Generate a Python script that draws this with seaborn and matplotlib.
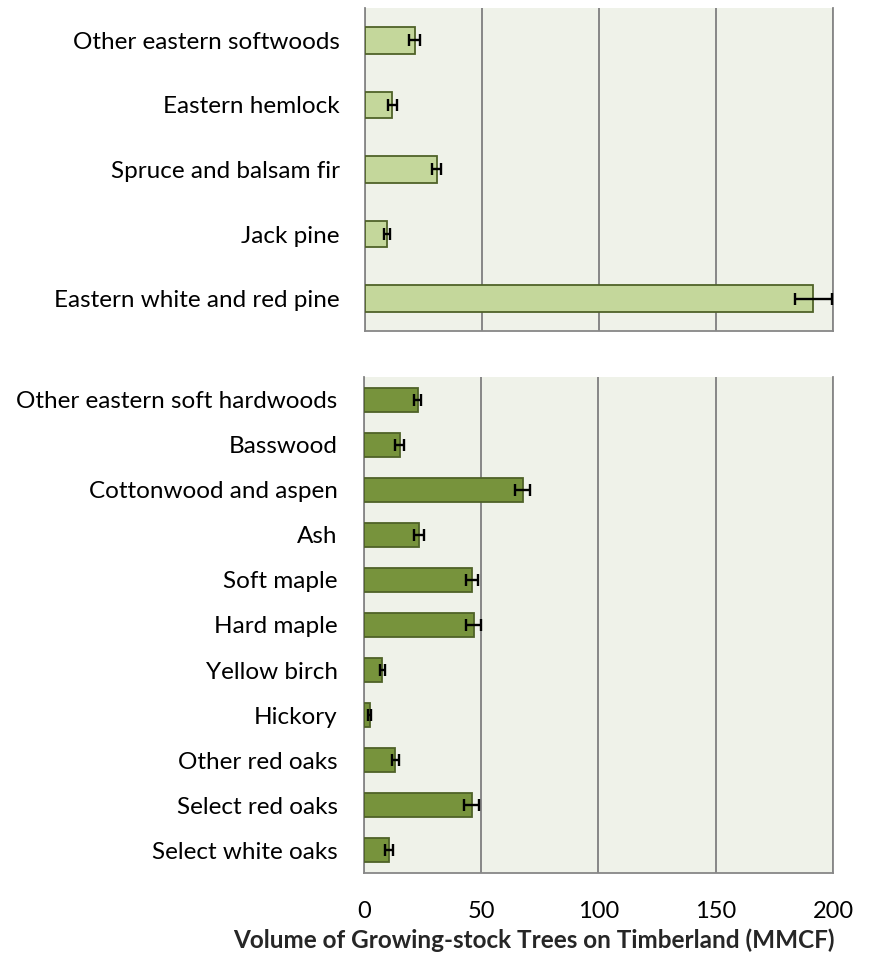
import numpy as np
import pandas as pd
import matplotlib.pyplot as plt
import seaborn as sns

# ── DATA ──────────────────────────────────────────────────────────────────────
soft_species = ['Other eastern softwoods', 'Eastern hemlock', 'Spruce and balsam fir',
                'Jack pine', 'Eastern white and red pine']
soft_volume = [21.2, 11.7, 30.6, 9.4, 191.6]
soft_err = [2.5, 1.9, 1.9, 1.2, 7.9]

hard_species = ['Other eastern soft hardwoods', 'Basswood', 'Cottonwood and aspen', 'Ash',
                'Soft maple', 'Hard maple', 'Yellow birch', 'Hickory', 'Other red oaks',
                'Select red oaks', 'Select white oaks']
hard_volume = [22.9, 15.2, 67.7, 23.4, 46.2, 46.9, 7.8, 2.4, 13.4, 45.9, 10.7]
hard_err = [1.6, 1.8, 3.2, 2.0, 2.5, 3.2, 1.1, 0.6, 1.6, 3.3, 1.6]

x_ticks = [0, 50, 100, 150, 200]
x_label = 'Volume of Growing-stock Trees on Timberland (MMCF)'

# ── STYLE ─────────────────────────────────────────────────────────────────────
sns.set_style('white')
plt.rcParams['font.family'] = ['Lato', 'DejaVu Sans']
grid_col = '#878787'
bg_col = '#EFF2E9'

fig = plt.figure(figsize=(8.78, 9.63), dpi=100)
ax1 = fig.add_axes([0.4157, 0.6563, 0.5330, 0.3354])
ax2 = fig.add_axes([0.4146, 0.0935, 0.5341, 0.5150])


def draw_panel(ax, species, volume, err, fill, width):
    df = pd.DataFrame({'species': species, 'volume': volume})
    sns.barplot(data=df, x='volume', y='species', orient='h', color=fill,
                edgecolor='#4F6228', linewidth=1.3, width=width,
                saturation=1, ax=ax, zorder=3)
    ax.errorbar(volume, np.arange(len(species)), xerr=err, fmt='none',
                ecolor='black', elinewidth=1.7, capsize=4.5, capthick=1.7, zorder=4)
    ax.set_facecolor(bg_col)
    ax.set_xlim(0, 200)
    ax.set_ylim(len(species) - 0.5, -0.5)
    ax.set_xticks(x_ticks)
    ax.grid(axis='x', color=grid_col, linewidth=1.4, zorder=0)
    ax.set_axisbelow(True)
    for side in ['left', 'bottom', 'right']:
        ax.spines[side].set_visible(True)
        ax.spines[side].set_color(grid_col)
        ax.spines[side].set_linewidth(1.3)
    ax.spines['top'].set_visible(False)
    ax.set_xlabel('')
    ax.set_ylabel('')
    ax.tick_params(axis='y', length=0, labelsize=17.5, pad=18, labelcolor='black')


draw_panel(ax1, soft_species, soft_volume, soft_err, '#C4D79B', 0.41)
draw_panel(ax2, hard_species, hard_volume, hard_err, '#77933C', 0.53)

ax1.tick_params(axis='x', length=0, labelbottom=False)

ax2.set_yticks(np.arange(-0.5, len(hard_species)), minor=True)
ax2.tick_params(axis='y', which='minor', length=7, width=1.3, color=grid_col)
ax2.tick_params(axis='y', which='major', pad=19)
ax2.tick_params(axis='x', length=7, width=1.3, color=grid_col, labelsize=17,
                pad=13, labelcolor='black')

fig.text(0.608, 0.011, x_label, ha='center', va='bottom', fontsize=17.5,
         fontweight='bold')

plt.savefig('out.png', dpi=100)
